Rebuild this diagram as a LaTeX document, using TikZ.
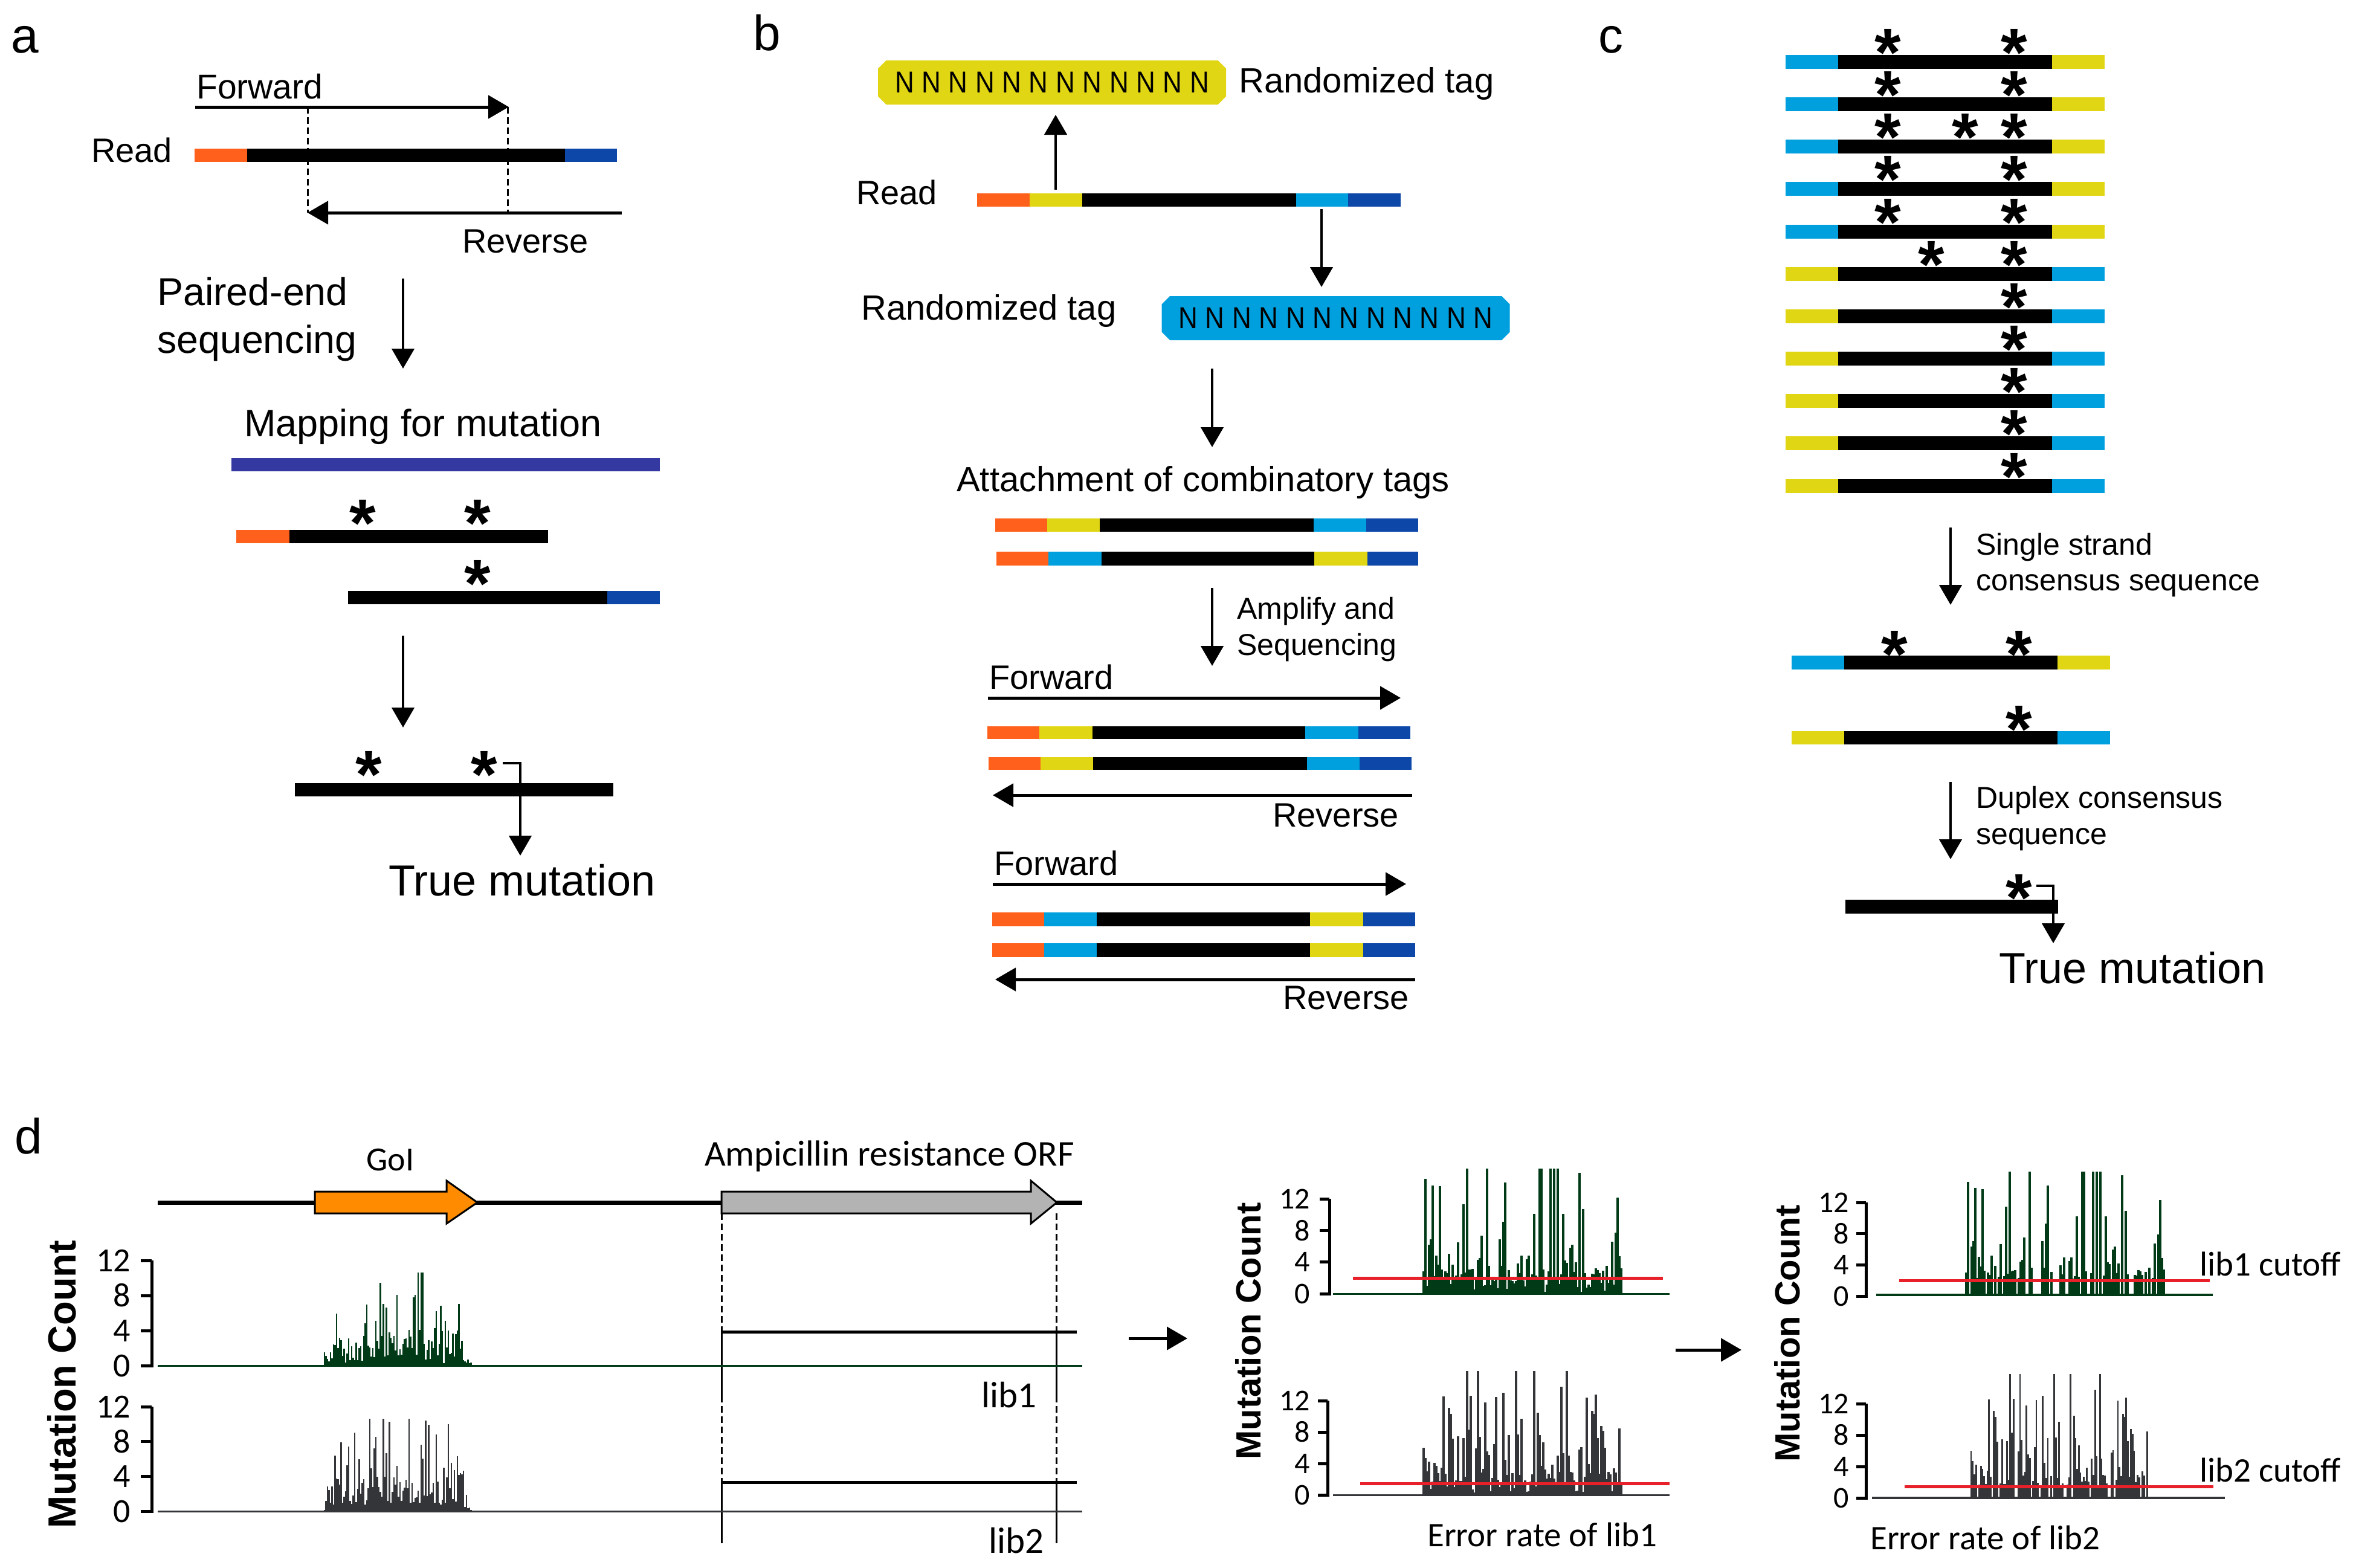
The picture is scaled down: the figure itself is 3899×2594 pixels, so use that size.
\documentclass[tikz,border=0pt]{standalone}
\usepackage{fontspec}
\setmainfont{Liberation Sans}
\newfontfamily\calfont{Carlito}
\usepackage{graphicx}
\usetikzlibrary{arrows.meta,shapes.misc}
\definecolor{cOr}{RGB}{255,96,28}
\definecolor{cDb}{RGB}{13,71,168}
\definecolor{cNv}{RGB}{51,57,160}
\definecolor{cYe}{RGB}{224,214,20}
\definecolor{cLb}{RGB}{0,160,223}
\definecolor{cGo}{RGB}{255,140,0}
\definecolor{cGr}{RGB}{179,179,179}
\definecolor{cDg}{RGB}{0,58,23}
\definecolor{cDk}{RGB}{51,53,56}
\definecolor{cRd}{RGB}{232,32,42}
\newcommand\fsz[1]{\fontsize{#1}{#1}\selectfont}
\newcommand\oneN{\scalebox{0.88}[1]{N}}
\newcommand\gN{\oneN\hspace{12.6pt}}
\newcommand\Nrow{\gN\gN\gN\gN\gN\gN\gN\gN\gN\gN\gN\oneN}
% envelope bars: x0, step, N, base, unit, colour, seed, amp, cap
\newcommand\gbars[9]{%
 \pgfmathsetseed{#7}%
 \foreach \ii in {0,...,#3}{%
  \pgfmathsetmacro\ee{sqrt(sin(180/(#3+1)*(\ii+0.5)))}%
  \pgfmathsetmacro\ra{random()}%
  \pgfmathsetmacro\rb{random()}%
  \pgfmathsetmacro\hh{min(#9,(0.3+2.6*\ra)*\ee+#8*\rb*\rb*\rb*\ee)*#5}%
  \draw[#6,line width=2.7pt] (#1+#2*\ii,#4) -- ++(0,-\hh);
 }}
% middle/right bars: x0, step, N, base, unit, colour, seed, cutoff, width
\newcommand\mbars[9]{%
 \pgfmathsetseed{#7}%
 \foreach \ii in {0,...,#3}{%
  \pgfmathsetmacro\ra{random()}%
  \pgfmathsetmacro\rb{random()}%
  \pgfmathsetmacro\hh{min(15.8,0.2+2.8*\ra+18*\rb*\rb*\rb*\rb)}%
  \ifdim\hh pt<#8pt\else
   \draw[#6,line width=#9pt] (#1+#2*\ii,#4) -- ++(0,-\hh*#5);
  \fi
 }}
\begin{document}
\begin{tikzpicture}[x=1pt,y=-1pt,
  txt/.style={inner sep=0pt,anchor=base west},
  txtr/.style={inner sep=0pt,anchor=base east},
  astk/.style={inner sep=0pt,anchor=north,font=\fsz{112}\bfseries},
  arr/.style={line width=4.5pt,-{Triangle[width=37pt,length=33pt]}},
  harr/.style={line width=5pt,-{Triangle[width=38pt,length=34pt]}},
  dsh/.style={line width=3pt,dash pattern=on 11pt off 6pt},
  tagbox/.style={chamfered rectangle,chamfered rectangle xsep=10pt,minimum width=576pt,minimum height=73pt,inner sep=0pt},
  tick/.style={inner sep=0pt,anchor=east,font=\calfont\fsz{56}},
  tick2/.style={inner sep=0pt,anchor=east,font=\calfont\fsz{50}},
  axis/.style={line width=5pt},
  dtx/.style={inner sep=0pt,anchor=base west,font=\calfont\fsz{57}},
  mc/.style={inner sep=0pt,rotate=90,font=\bfseries}
]
\fill[white] (0,0) rectangle (3899,2594);
\useasboundingbox (0,0) rectangle (3899,2594);

%================ panel a
\node[txt,font=\fsz{82}] (la) at (18,87) {a};
\node[txt,font=\fsz{57}] (afw) at (325,163) {Forward};
\coordinate (afw1) at (323,177); \coordinate (afw2) at (842,177);
\draw[harr] (afw1) -- (afw2);
\node[txt,font=\fsz{56}] (aread) at (151,268) {Read};
\fill[cOr] (322,246) rectangle (409,268);
\fill[black] (409,246) rectangle (935,268);
\fill[cDb] (935,246) rectangle (1021,268);
\coordinate (ad1) at (509,177); \coordinate (ad2) at (509,352);
\coordinate (ad3) at (840,177); \coordinate (ad4) at (840,352);
\draw[dsh] (ad1) -- (ad2);
\draw[dsh] (ad3) -- (ad4);
\coordinate (arv1) at (1029,352);
\draw[harr] (arv1) -- (ad2);
\node[txt,font=\fsz{56}] (arev) at (765,418) {Reverse};
\node[txt,font=\fsz{64.5}] (ape1) at (260,505) {Paired-end};
\node[txt,font=\fsz{64.5}] (ape2) at (260,584) {sequencing};
\coordinate (aa1) at (667,461); \coordinate (aa2) at (667,610);
\draw[arr] (aa1) -- (aa2);
\node[txt,font=\fsz{63}] (amap) at (404,722) {Mapping for mutation};
\fill[cNv] (383,758) rectangle (1092,780);
\fill[cOr] (391,877) rectangle (479,899);
\fill[black] (479,877) rectangle (907,899);
\node[astk] (as1) at (600,827) {*};
\node[astk] (as2) at (790,827) {*};
\fill[black] (576,978) rectangle (1005,1000);
\fill[cDb] (1005,978) rectangle (1092,1000);
\node[astk] (as3) at (790,927) {*};
\coordinate (ab1) at (667,1052); \coordinate (ab2) at (667,1204);
\draw[arr] (ab1) -- (ab2);
\fill[black] (488,1296) rectangle (1015,1318);
\node[astk] (as4) at (610,1243) {*};
\node[astk] (as5) at (801,1243) {*};
\coordinate (abk1) at (832,1263); \coordinate (abk2) at (861,1416);
\draw[arr] (abk1) -| (abk2);
\node[txt,font=\fsz{72}] (atrue) at (643,1482) {True mutation};

%================ panel b
\node[txt,font=\fsz{82}] (lb) at (1246,83) {b};
\node[tagbox,fill=cYe] (tagY) at (1741,136.5) {\fsz{50}\Nrow};
\node[txt,font=\fsz{58}] (brt1) at (2050,153) {Randomized tag};
\coordinate (bu1) at (1747,314); \coordinate (bu2) at (1747,190);
\draw[arr] (bu1) -- (bu2);
\node[txt,font=\fsz{56}] (bread) at (1417,338) {Read};
\foreach \a/\b/\c in {1617/1704/cOr,1704/1791/cYe,1791/2145/black,2145/2231/cLb,2231/2318/cDb}
  \fill[\c] (\a,320) rectangle (\b,342);
\coordinate (bd1) at (2187,346); \coordinate (bd2) at (2187,475);
\draw[arr] (bd1) -- (bd2);
\node[txt,font=\fsz{58}] (brt2) at (1425,529) {Randomized tag};
\node[tagbox,fill=cLb] (tagB) at (2210.5,526.5) {\fsz{50}\Nrow};
\coordinate (bd3) at (2006,610); \coordinate (bd4) at (2006,740);
\draw[arr] (bd3) -- (bd4);
\node[txt,font=\fsz{58}] (batt) at (1583,813) {Attachment of combinatory tags};
\foreach \a/\b/\c in {1647/1733/cOr,1733/1820/cYe,1820/2174/black,2174/2261/cLb,2261/2347/cDb}
  \fill[\c] (\a,858) rectangle (\b,880);
\foreach \a/\b/\c in {1649/1735/cOr,1735/1823/cLb,1823/2175/black,2175/2263/cYe,2263/2347/cDb}
  \fill[\c] (\a,913) rectangle (\b,936);
\coordinate (bd5) at (2006,973); \coordinate (bd6) at (2006,1102);
\draw[arr] (bd5) -- (bd6);
\node[txt,font=\fsz{50}] (bamp1) at (2047,1024) {Amplify and};
\node[txt,font=\fsz{50}] (bamp2) at (2047,1084) {Sequencing};
\node[txt,font=\fsz{56}] (bfw1) at (1637,1140) {Forward};
\coordinate (bf1) at (1635,1155); \coordinate (bf2) at (2318,1155);
\draw[harr] (bf1) -- (bf2);
\foreach \a/\b/\c in {1634/1720/cOr,1720/1808/cYe,1808/2160/black,2160/2248/cLb,2248/2334/cDb}
  \fill[\c] (\a,1202) rectangle (\b,1223);
\foreach \a/\b/\c in {1636/1722/cOr,1722/1809/cYe,1809/2163/black,2163/2250/cLb,2250/2336/cDb}
  \fill[\c] (\a,1253) rectangle (\b,1274);
\coordinate (br1) at (2337,1316); \coordinate (br2) at (1643,1316);
\draw[harr] (br1) -- (br2);
\node[txtr,font=\fsz{56}] (brv1) at (2315,1368) {Reverse};
\node[txt,font=\fsz{56}] (bfw2) at (1645,1448) {Forward};
\coordinate (bf3) at (1643,1463); \coordinate (bf4) at (2327,1463);
\draw[harr] (bf3) -- (bf4);
\foreach \yy in {1510,1561}
 \foreach \a/\b/\c in {1642/1728/cOr,1728/1815/cLb,1815/2168/black,2168/2256/cYe,2256/2342/cDb}
  \fill[\c] (\a,\yy) rectangle (\b,\yy+23);
\coordinate (br3) at (2342,1621); \coordinate (br4) at (1647,1621);
\draw[harr] (br3) -- (br4);
\node[txtr,font=\fsz{56}] (brv2) at (2332,1670) {Reverse};

%================ panel c
\node[txt,font=\fsz{82}] (lc) at (2645,87) {c};
\foreach \t/\l/\r [count=\k] in {91/cLb/cYe,161/cLb/cYe,231/cLb/cYe,301/cLb/cYe,372/cLb/cYe,442/cYe/cLb,512/cYe/cLb,582/cYe/cLb,652/cYe/cLb,722/cYe/cLb,793/cYe/cLb}{
  \fill[\l] (2955,\t) rectangle (3042,\t+23);
  \fill[black] (3042,\t) rectangle (3396,\t+23);
  \fill[\r] (3396,\t) rectangle (3483,\t+23);
  \node[astk] (csr\k) at (3333,\t-43) {*};
}
\foreach \t [count=\k] in {91,161,231,301,372}
  \node[astk] (csl\k) at (3124,\t-43) {*};
\node[astk] (csm) at (3252,188) {*};
\node[astk] (csn) at (3196,399) {*};
\coordinate (cd1) at (3228,873); \coordinate (cd2) at (3228,1001);
\draw[arr] (cd1) -- (cd2);
\node[txt,font=\fsz{50}] (css1) at (3270,918) {Single strand};
\node[txt,font=\fsz{50}] (css2) at (3270,977) {consensus sequence};
\fill[cLb] (2965,1085) rectangle (3052,1108);
\fill[black] (3052,1085) rectangle (3405,1108);
\fill[cYe] (3405,1085) rectangle (3492,1108);
\node[astk] (cs1) at (3135,1044) {*};
\node[astk] (cs2) at (3341,1044) {*};
\fill[cYe] (2965,1210) rectangle (3052,1232);
\fill[black] (3052,1210) rectangle (3405,1232);
\fill[cLb] (3405,1210) rectangle (3492,1232);
\node[astk] (cs3) at (3341,1168) {*};
\coordinate (cd3) at (3228,1294); \coordinate (cd4) at (3228,1422);
\draw[arr] (cd3) -- (cd4);
\node[txt,font=\fsz{50}] (cdc1) at (3270,1337) {Duplex consensus};
\node[txt,font=\fsz{50}] (cdc2) at (3270,1397) {sequence};
\fill[black] (3054,1489) rectangle (3406,1512);
\node[astk] (cs4) at (3341,1447) {*};
\coordinate (cbk1) at (3370,1466); \coordinate (cbk2) at (3398,1561);
\draw[arr] (cbk1) -| (cbk2);
\node[txt,font=\fsz{72}] (ctrue) at (3308,1627) {True mutation};

%================ panel d
\node[txt,font=\fsz{82}] (ld) at (24,1909) {d};
\coordinate (db1) at (261,1990); \coordinate (db2) at (1791,1990);
\draw[line width=7pt] (db1) -- (db2);
\filldraw[fill=cGo,draw=black,line width=3pt] (521,1972) -- (739,1972) -- (739,1954) -- (790,1990) -- (739,2025) -- (739,2008) -- (521,2008) -- cycle;
\filldraw[fill=cGr,draw=black,line width=3pt] (1194,1972) -- (1706,1972) -- (1706,1954) -- (1749,1990) -- (1706,2025) -- (1706,2008) -- (1194,2008) -- cycle;
\node[txt,font=\calfont\fsz{56}] (dgoi) at (606,1937) {GoI};
\node[txt,font=\calfont\fsz{60}] (damp) at (1166,1929) {Ampicillin resistance ORF};
% vertical guides
\foreach \xx in {1194,1748}{
  \draw[dsh] (\xx,2008) -- (\xx,2204);
  \draw[line width=3pt] (\xx,2204) -- (\xx,2310);
  \draw[dsh] (\xx,2310) -- (\xx,2453);
  \draw[line width=3pt] (\xx,2453) -- (\xx,2554);
}
\coordinate (dl1a) at (1194,2204); \coordinate (dl1b) at (1782,2204);
\draw[line width=5pt] (dl1a) -- (dl1b);
\coordinate (dl2a) at (1194,2453); \coordinate (dl2b) at (1782,2453);
\draw[line width=5pt] (dl2a) -- (dl2b);
\node[txt,font=\calfont\fsz{61}] (dlib1) at (1624,2329) {lib1};
\node[txt,font=\calfont\fsz{61}] (dlib2) at (1636,2570) {lib2};
% chart 1
\draw[cDg,line width=3pt] (261,2260) -- (1791,2260);
\gbars{537}{2.5}{97}{2260}{14.5}{cDg}{11}{12}{10.6}
\draw[axis] (251,2086) -- (251,2262.5);
\foreach \v [count=\k] in {0,4,8,12}{
  \draw[axis] (233,2260-14.5*\v) -- (251,2260-14.5*\v);
  \node[tick] (t1\k) at (216,2260-14.5*\v) {\v};
}
% chart 2
\draw[cDk,line width=3pt] (261,2501) -- (1791,2501);
\gbars{537}{2.5}{97}{2501}{14.4}{cDk}{23}{12}{10.6}
\draw[axis] (251,2328) -- (251,2503.5);
\foreach \v [count=\k] in {0,4,8,12}{
  \draw[axis] (233,2501-14.4*\v) -- (251,2501-14.4*\v);
  \node[tick] (t2\k) at (216,2501-14.4*\v) {\v};
}
\node[mc,font=\fsz{65}\bfseries] (mc1) at (102,2291) {Mutation Count};
\coordinate (da1) at (1868,2215); \coordinate (da2) at (1965,2215);
\draw[harr] (da1) -- (da2);
% chart 3
\draw[cDg,line width=3pt] (2206,2141) -- (2763,2141);
\mbars{2356}{3}{109}{2141}{13.08}{cDg}{37}{0}{3.1}
\draw[cRd,line width=5pt] (2239,2115) -- (2752,2115);
\draw[axis] (2200,1984) -- (2200,2143.5);
\foreach \v [count=\k] in {0,4,8,12}{
  \draw[axis] (2184,2141-13.08*\v) -- (2200,2141-13.08*\v);
  \node[tick2] (t3\k) at (2168,2141-13.08*\v) {\v};
}
% chart 4
\draw[cDk,line width=3pt] (2206,2474) -- (2763,2474);
\mbars{2356}{3}{109}{2474}{13}{cDk}{53}{0}{3.1}
\draw[cRd,line width=5pt] (2251,2455) -- (2763,2455);
\draw[axis] (2197,2318) -- (2197,2476.5);
\foreach \v [count=\k] in {0,4,8,12}{
  \draw[axis] (2181,2474-13*\v) -- (2197,2474-13*\v);
  \node[tick2] (t4\k) at (2168,2474-13*\v) {\v};
}
\node[mc,font=\fsz{58}\bfseries] (mc2) at (2066,2203) {Mutation Count};
\node[dtx] (der1) at (2362,2559) {Error rate of lib1};
\coordinate (da3) at (2773,2234); \coordinate (da4) at (2882,2234);
\draw[harr] (da3) -- (da4);
% chart 5
\draw[cDg,line width=4pt] (3105,2143) -- (3662,2143);
\mbars{3254}{3}{109}{2143}{12.9}{cDg}{37}{2}{3.1}
\draw[cRd,line width=5pt] (3143,2119) -- (3657,2119);
\draw[axis] (3088,1990) -- (3088,2147.5);
\foreach \v [count=\k] in {0,4,8,12}{
  \draw[axis] (3072,2145-12.9*\v) -- (3088,2145-12.9*\v);
  \node[tick2] (t5\k) at (3060,2145-12.9*\v) {\v};
}
\node[dtx] (dcut1) at (3640,2111) {lib1 cutoff};
% chart 6
\draw[cDk,line width=4pt] (3098,2479) -- (3682,2479);
\mbars{3262}{2.7}{109}{2479}{13}{cDk}{53}{1.5}{2.8}
\draw[cRd,line width=5pt] (3152,2460) -- (3663,2460);
\draw[axis] (3088,2323) -- (3088,2481.5);
\foreach \v [count=\k] in {0,4,8,12}{
  \draw[axis] (3072,2479-13*\v) -- (3088,2479-13*\v);
  \node[tick2] (t6\k) at (3060,2479-13*\v) {\v};
}
\node[dtx] (dcut2) at (3640,2452) {lib2 cutoff};
\node[mc,font=\fsz{58}\bfseries] (mc3) at (2958,2207) {Mutation Count};
\node[dtx] (der2) at (3095,2564) {Error rate of lib2};
\end{tikzpicture}
\end{document}
